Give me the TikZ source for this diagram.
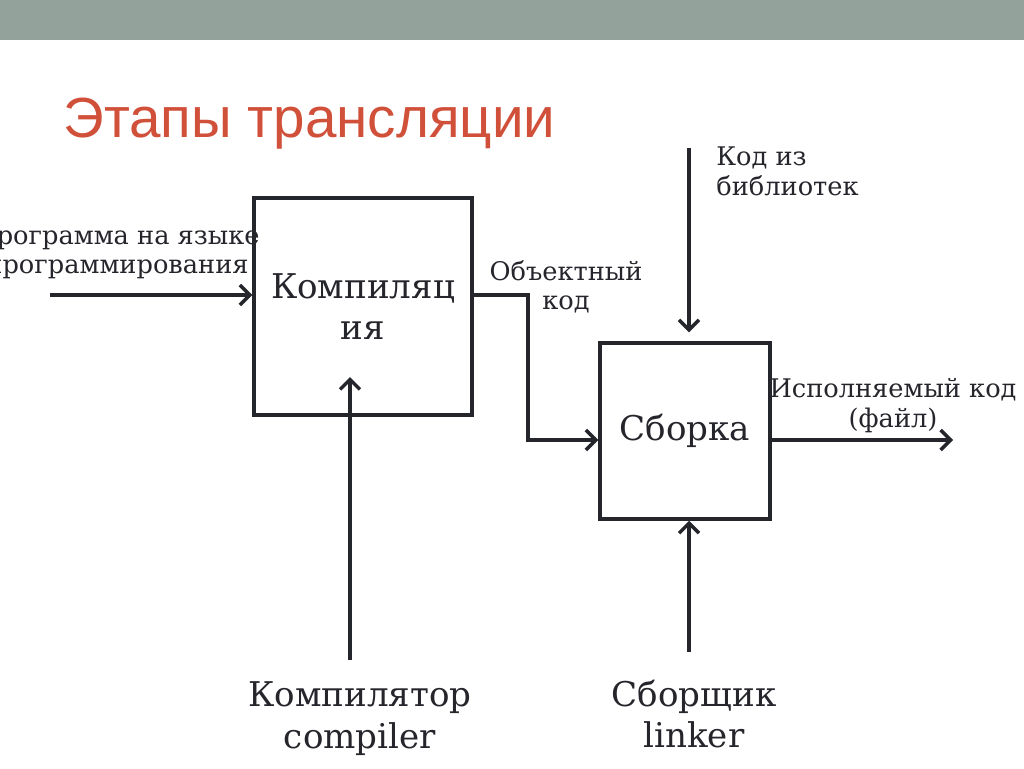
\documentclass[tikz,border=0pt]{standalone}
\usepackage{fontspec}
\setmainfont{DejaVu Serif}
\newfontfamily\titlefont{Liberation Sans}
\usetikzlibrary{arrows.meta,positioning}
\definecolor{barcol}{HTML}{93A29A}
\definecolor{titlecol}{HTML}{D0503A}
\definecolor{inkcol}{HTML}{25252C}
\begin{document}
\begin{tikzpicture}[x=0.02cm,y=-0.02cm,
    block/.style={draw=inkcol,line width=2pt,inner sep=0pt,font=\fontsize{19.4}{23}\selectfont,text=inkcol,align=center},
    flow/.style={draw=inkcol,line width=2pt,-{Straight Barb[length=0.2cm,width=0.4cm,line width=2pt]}},
    bigtext/.style={font=\fontsize{19.4}{23.8}\selectfont,text=inkcol,align=center,inner sep=0pt},
    smalltext/.style={font=\fontsize{14.6}{16.8}\selectfont,text=inkcol,align=center,inner sep=0pt}]
\useasboundingbox (0,0) rectangle (1024,768);
\fill[barcol] (0,0) rectangle (1024,40);
\node[anchor=base west,inner sep=0pt,text=titlecol,font=\titlefont\fontsize{32.2}{38}\selectfont] (title) at (63,137) {Этапы трансляции};
% blocks
\node[block,minimum width=4.36cm,minimum height=4.34cm] (compile) at (363,306.5) {\raisebox{-0.05cm}{Компиляц}\\\raisebox{-0.05cm}{ия}};
\node[block,minimum width=3.4cm,minimum height=3.52cm] (link) at (685,431) {\raisebox{-0.18cm}{Сборка}};
% free ends
\coordinate (progin) at (50,295);
\coordinate (objturn) at (528,440);
\coordinate (exeout) at (953,440);
\coordinate (libin) at (689,148);
\coordinate (linkin) at (689,652);
\coordinate (compin) at (350,660);
\coordinate (compend) at (350,377);
% labels
\node[smalltext] (progtext) at (117,252.5) {Программа на языке\\программирования};
\node[smalltext] (objtext) at (566,287) {Объектный\\код};
\node[smalltext,align=left,anchor=west] (libtext) at (716,171.5) {Код из\\библиотек};
\node[smalltext] (exetext) at (893,405.5) {Исполняемый код\\(файл)};
\node[bigtext] (comptext) at (360,719) {Компилятор\\compiler};
\node[bigtext] (linktext) at (694,714) {Сборщик\\linker};
% arrows
\draw[flow] (progin) -- (progin -| compile.west);
\draw[flow] (progin -| compile.east) -| (objturn) -- (objturn -| link.west);
\draw[flow] (objturn -| link.east) -- (exeout);
\draw[flow,shorten >=0.18cm] (libin) -- (libin |- link.north);
\draw[flow] (linkin) -- (linkin |- link.south);
\draw[flow] (compin) -- (compend);
\end{tikzpicture}
\end{document}
